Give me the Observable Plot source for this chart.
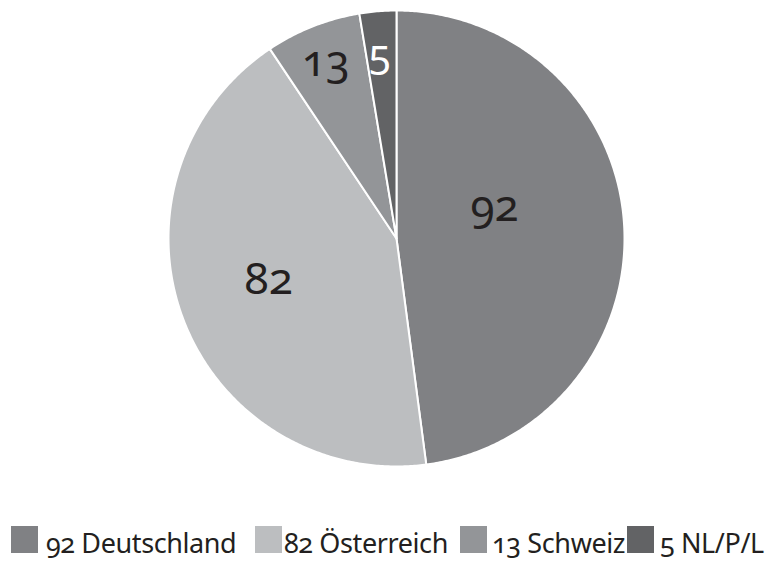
<!DOCTYPE html>
<html><head><meta charset="utf-8">
<script src="https://cdn.jsdelivr.net/npm/d3@7"></script>
<script src="https://cdn.jsdelivr.net/npm/@observablehq/plot@0.6"></script>
<style>
body{margin:0;background:#fff;font-family:"Noto Sans",sans-serif;color:#231f20;}
#wrap{position:relative;width:772px;height:561px;overflow:hidden;}
#wrap svg{display:block;}
.sw{position:absolute;top:526px;width:27px;height:27px;}
.lt{position:absolute;top:529px;font-size:27px;line-height:27px;white-space:nowrap;font-variant-numeric:oldstyle-nums;letter-spacing:-0.4px;}
svg text{font-variant-numeric:oldstyle-nums;}
</style></head><body><div id="wrap"></div><script>
const names = ["Deutschland", "Österreich", "Schweiz", "NL/P/L"];
const values = [92, 82, 13, 5];
const colors = ["#808184", "#bcbec0", "#939598", "#626365"];
const labelColors = ["#231f20", "#231f20", "#231f20", "#ffffff"];

const rows = names.map((name, i) => ({name, value: values[i]}));
const wrap = document.getElementById("wrap");

const arcs = d3.pie().sort(null).value(d => d.value)(rows);
const pts = [];
arcs.forEach(a => {
  const name = a.data.name;
  pts.push({name, x: 0, y: 0});
  const n = Math.max(4, Math.ceil((a.endAngle - a.startAngle) / (Math.PI / 360)));
  for (let k = 0; k <= n; k++) {
    const t = a.startAngle + (a.endAngle - a.startAngle) * k / n;
    pts.push({name, x: Math.sin(t), y: Math.cos(t)});
  }
  pts.push({name, x: 0, y: 0});
});

// label placement: angle shift (deg) from slice middle, radius fraction
const place = [[-13.9, 0.451], [2.8, 0.589], [-0.2, 0.836], [-0.6, 0.806]];
const labels = arcs.map((a, i) => {
  const t = (a.startAngle + a.endAngle) / 2 + place[i][0] * Math.PI / 180;
  return {value: a.data.value, x: place[i][1] * Math.sin(t), y: place[i][1] * Math.cos(t), c: labelColors[i]};
});

const plot = Plot.plot({
  width: 772, height: 500,
  margin: 0,
  x: {domain: [-1, 1], range: [168, 624], axis: null},
  y: {domain: [-1, 1], range: [466, 10], axis: null},
  color: {domain: names, range: colors},
  marks: [
    Plot.line(pts, {x: "x", y: "y", z: "name", fill: "name", stroke: "white", strokeWidth: 2, curve: "linear"}),
    Plot.text(labels.slice(0, 3), {x: "x", y: "y", text: d => String(d.value), fill: "c", fontSize: 44, fontFamily: "Noto Sans", letterSpacing: -2}),
    Plot.text(labels.slice(3), {x: "x", y: "y", text: d => String(d.value), fill: "c", fontSize: 40, fontFamily: "Noto Sans"})
  ]
});
wrap.appendChild(plot);

// legend layout (pixel x of each swatch and text)
const legSwX = [11, 255, 460, 627];
const legTxX = [46, 284, 492, 660];
rows.forEach((r, i) => {
  const sw = document.createElement("div");
  sw.className = "sw";
  sw.style.left = legSwX[i] + "px";
  sw.style.background = colors[i];
  const tx = document.createElement("div");
  tx.className = "lt";
  tx.style.left = legTxX[i] + "px";
  tx.textContent = r.value + " " + r.name;
  wrap.appendChild(sw); wrap.appendChild(tx);
});
</script></body></html>
